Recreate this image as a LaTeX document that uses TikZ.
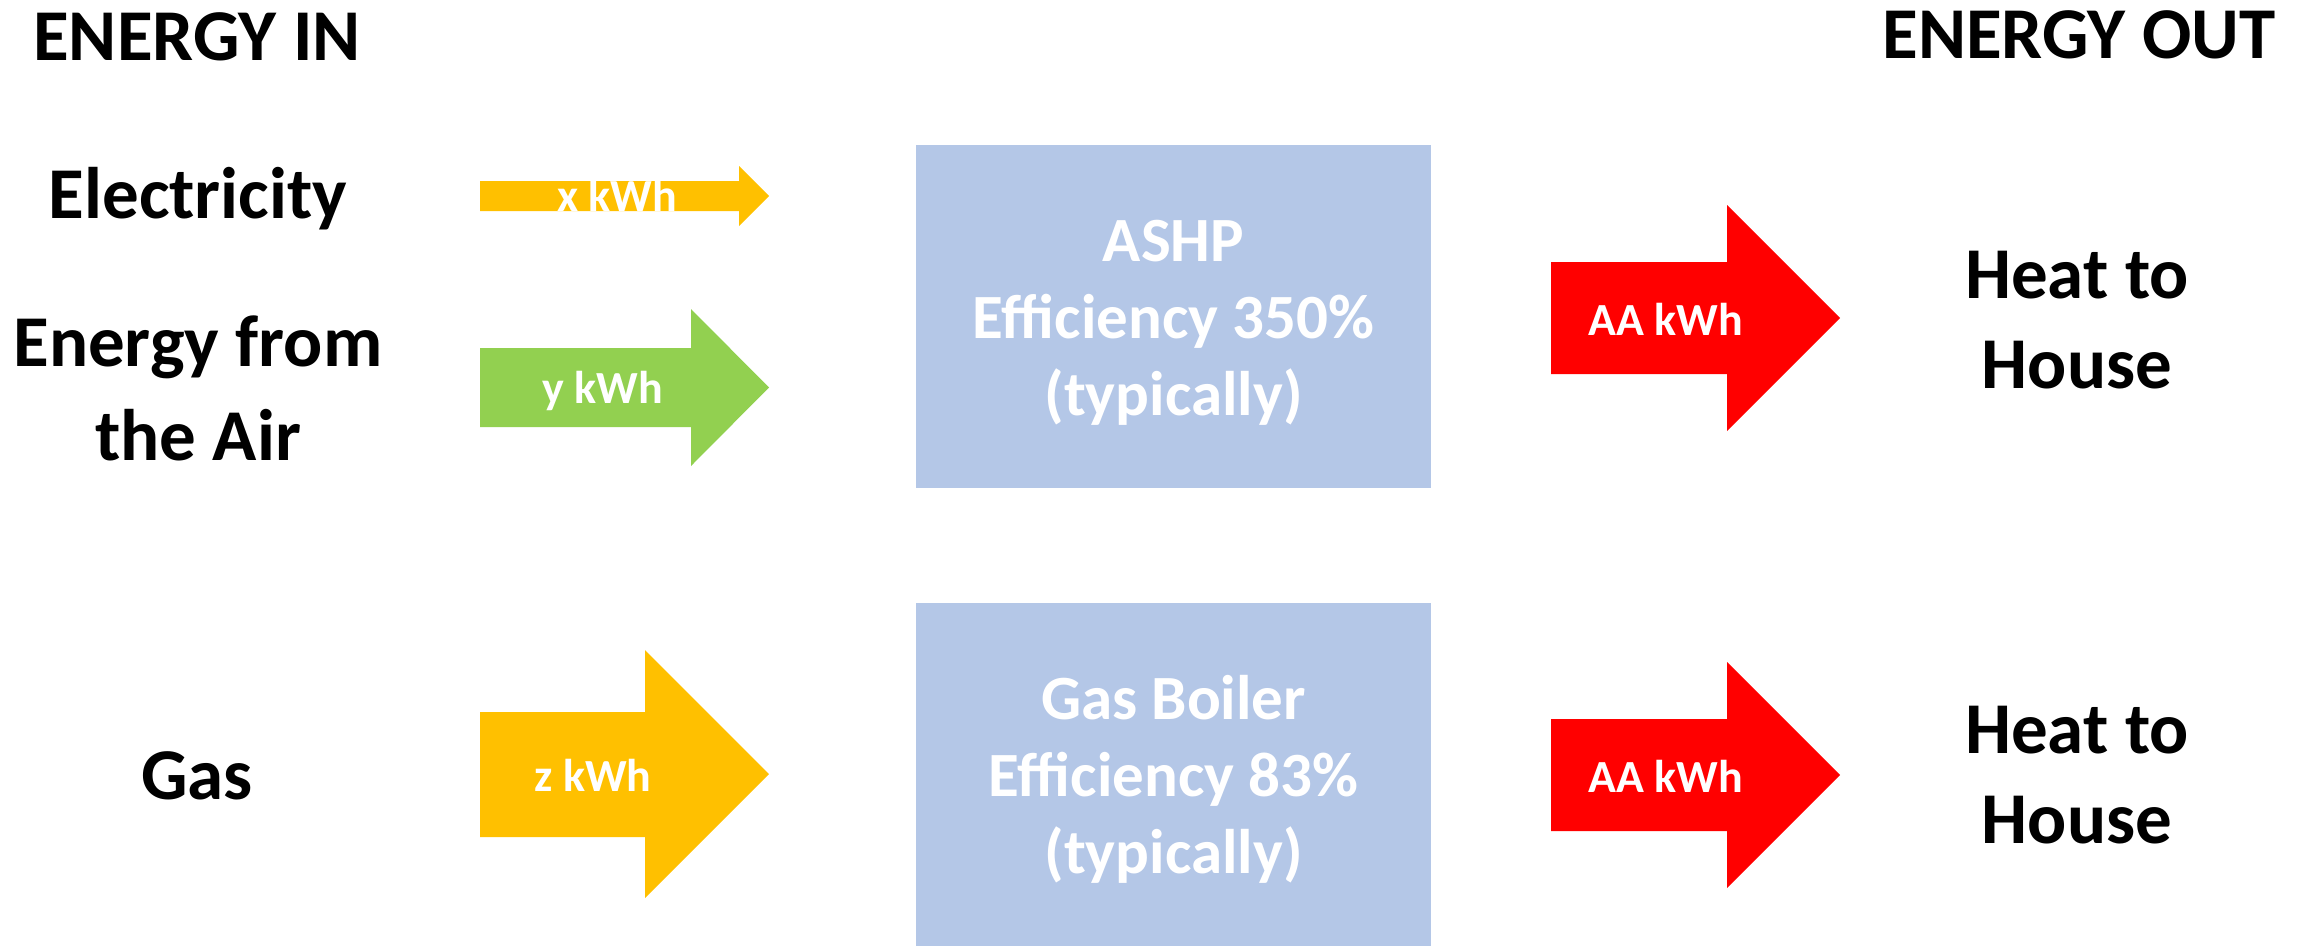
\documentclass[tikz,border=0pt]{standalone}
\usepackage{fontspec}
\setmainfont{Carlito}
\definecolor{amber}{HTML}{FFC000}
\definecolor{leafgreen}{HTML}{92D050}
\definecolor{boxblue}{HTML}{B4C7E7}
\begin{document}
\begin{tikzpicture}[x=1pt,y=-1pt]
\tikzstyle{every node}+=[inner sep=0pt]
\tikzstyle{bigtext}=[font=\fontsize{73}{90}\selectfont\bfseries, align=center, anchor=base]
\tikzstyle{kwh}=[font=\fontsize{46}{56}\selectfont\bfseries, text=white, anchor=base]
\tikzstyle{plant}=[text=white, align=center, anchor=base, font=\fontsize{63}{77}\selectfont\bfseries]
\useasboundingbox (0,0) rectangle (2306,951);
% headings
\node [bigtext] (energyin) at (197,60) {ENERGY IN};
\node [bigtext] (energyout) at (2079,58) {ENERGY OUT};
% inputs
\node [bigtext] (elec) at (198,218) {Electricity};
\node [bigtext, font=\fontsize{73}{94}\selectfont\bfseries] (air) at (198,460) {Energy from\\the Air};
\node [bigtext] (gas) at (197,799) {Gas};
% input arrows
\fill [amber] (480,181) -- (739,181) -- (739,166) -- (769,196) -- (739,226) -- (739,211) -- (480,211) -- cycle;
\node [kwh] (xkwh) at (617,211) {x kWh};
\fill [leafgreen] (480,348) -- (691,348) -- (691,309) -- (769,387.5) -- (691,466) -- (691,427) -- (480,427) -- cycle;
\node [kwh] (ykwh) at (603,403) {y kWh};
\fill [amber] (480,712) -- (645,712) -- (645,650) -- (769,774) -- (645,898) -- (645,837) -- (480,837) -- cycle;
\node [kwh] (zkwh) at (593,791) {z kWh};
% plants
\fill [boxblue] (916,145) rectangle (1431,488);
\node [plant] (ashp) at (1173.5,415) {ASHP\\Efficiency 350\%\\(typically)};
\fill [boxblue] (916,603) rectangle (1431,946);
\node [plant] (boiler) at (1173.5,873) {Gas Boiler\\Efficiency 83\%\\(typically)};
% output arrows
\fill [red] (1551,262) -- (1727,262) -- (1727,205) -- (1840,318) -- (1727,431) -- (1727,374) -- (1551,374) -- cycle;
\node [kwh] (aa1) at (1666,335) {AA kWh};
\fill [red] (1551,719) -- (1727,719) -- (1727,662) -- (1840,775) -- (1727,888) -- (1727,831) -- (1551,831) -- cycle;
\node [kwh] (aa2) at (1666,792) {AA kWh};
% outputs
\node [bigtext] (heat1) at (2077,388) {Heat to\\House};
\node [bigtext] (heat2) at (2077,843) {Heat to\\House};
\end{tikzpicture}
\end{document}
